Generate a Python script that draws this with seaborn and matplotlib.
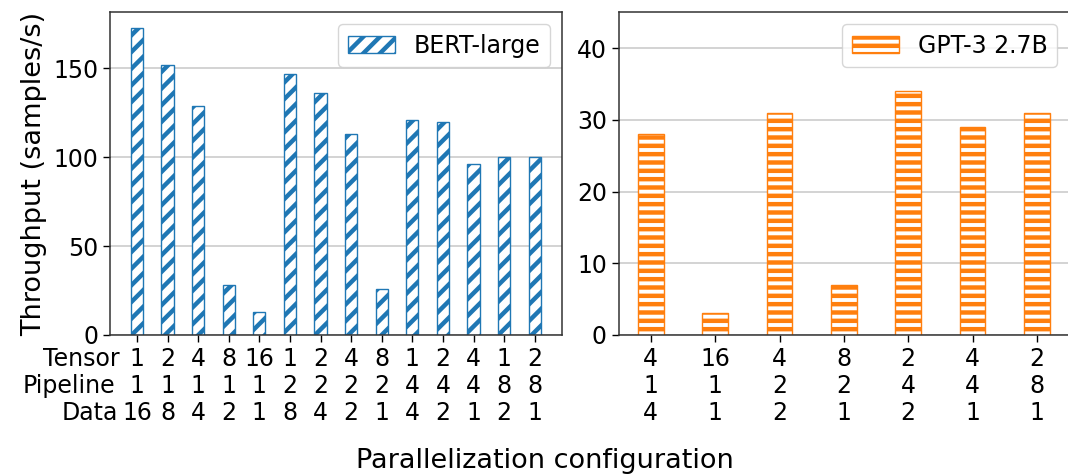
import matplotlib
matplotlib.use("Agg")
import matplotlib.pyplot as plt
import seaborn as sns
import pandas as pd

# ---- data ----
bert_tensor = [1, 2, 4, 8, 16, 1, 2, 4, 8, 1, 2, 4, 1, 2]
bert_pipeline = [1, 1, 1, 1, 1, 2, 2, 2, 2, 4, 4, 4, 8, 8]
bert_data = [16, 8, 4, 2, 1, 8, 4, 2, 1, 4, 2, 1, 2, 1]
bert_throughput = [173, 152, 129, 28, 13, 147, 136, 113, 26, 121, 120, 96, 100, 100]

gpt_tensor = [4, 16, 4, 8, 2, 4, 2]
gpt_pipeline = [1, 1, 2, 2, 4, 4, 8]
gpt_data = [4, 1, 2, 1, 2, 1, 1]
gpt_throughput = [28, 3, 31, 7, 34, 29, 31]

row_labels = ["Tensor", "Pipeline", "Data"]
bert_name = "BERT-large"
gpt_name = "GPT-3 2.7B"
y_label = "Throughput (samples/s)"
x_label = "Parallelization configuration"
bert_yticks = [0, 50, 100, 150]
gpt_yticks = [0, 10, 20, 30, 40]

def make_labels(t, p, d):
    return [f"{a}\n{b}\n{c}" for a, b, c in zip(t, p, d)]

bert_labels = make_labels(bert_tensor, bert_pipeline, bert_data)
gpt_labels = make_labels(gpt_tensor, gpt_pipeline, gpt_data)

df_bert = pd.DataFrame({"config": bert_labels, "throughput": bert_throughput})
df_gpt = pd.DataFrame({"config": gpt_labels, "throughput": gpt_throughput})

# ---- style ----
plt.rcParams.update({
    "font.family": ["DejaVu Sans"],
    "font.size": 16,
    "hatch.linewidth": 3.2,
    "xtick.major.size": 5,
    "ytick.major.size": 5,
    "xtick.major.pad": 3.5,
    "xtick.major.width": 1.0,
    "ytick.major.width": 1.0,
    "axes.linewidth": 1.1,
    "axes.edgecolor": "#333333",
})

BLUE = "#1f77b4"
ORANGE = "#ff7f0e"
TICK_FS = 17
LEGEND_FS = 17
LABEL_FS = 19.5
LINESP = 1.15

W, H = 1068, 475
fig = plt.figure(figsize=(W / 100, H / 100), dpi=100)
ax1 = fig.add_axes([110 / W, 140 / H, 451.7 / W, 322.7 / H])
ax2 = fig.add_axes([618.7 / W, 140 / H, 450.3 / W, 322.7 / H])

sns.barplot(data=df_bert, x="config", y="throughput", order=bert_labels,
            color="white", saturation=1, edgecolor=BLUE, linewidth=1.0,
            width=0.4, errorbar=None, label=bert_name, ax=ax1)
for p in ax1.patches:
    p.set_hatch("//")

sns.barplot(data=df_gpt, x="config", y="throughput", order=gpt_labels,
            color="white", saturation=1, edgecolor=ORANGE, linewidth=1.0,
            width=0.4, errorbar=None, label=gpt_name, ax=ax2)
for p in ax2.patches:
    p.set_hatch("--")

for ax in (ax1, ax2):
    ax.set_axisbelow(True)
    ax.yaxis.grid(True, color="#cccccc", linewidth=1.2)
    ax.xaxis.grid(False)
    ax.set_xlabel("")
    ax.set_ylabel("")
    ax.legend(loc="upper right", fontsize=LEGEND_FS)
    ax.tick_params(labelsize=TICK_FS)
    for s in ax.spines.values():
        s.set_visible(True)

ax1.set_xlim(-0.88, 13.88)
ax1.set_ylim(0, 181.6)
ax1.set_yticks(bert_yticks)
ax1.set_ylabel(y_label, fontsize=LABEL_FS)

ax2.set_xlim(-0.5, 6.5)
ax2.set_ylim(0, 45)
ax2.set_yticks(gpt_yticks)

for ax in (ax1, ax2):
    for t in ax.get_xticklabels():
        t.set_linespacing(LINESP)

# row labels to the left of the multi-line tick labels, on the same line grid
fig.canvas.draw()
renderer = fig.canvas.get_renderer()
first = ax1.get_xticklabels()[0]
top = first.get_window_extent(renderer).y1
_, lp_h, lp_d = renderer.get_text_width_height_descent("lp", first.get_fontproperties(), ismath=False)
base0 = top - (lp_h - lp_d)
step = lp_d + (lp_h - lp_d) * LINESP
row_right = [120, 115.2, 117.6]
for i, (lab, xr) in enumerate(zip(row_labels, row_right)):
    fig.text(xr / W, (base0 - i * step) / H, lab, ha="right", va="baseline",
             fontsize=TICK_FS)

fig.text(545 / W, (H - 468.3) / H, x_label, ha="center", va="baseline", fontsize=LABEL_FS)

fig.savefig("out.png", dpi=100)
